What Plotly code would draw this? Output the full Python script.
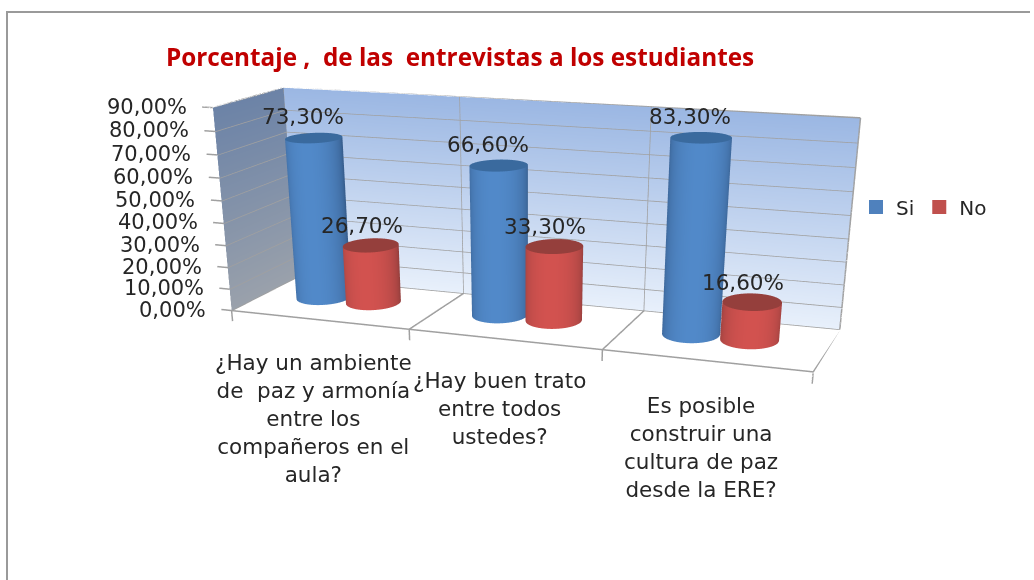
"""Cylinder chart of the student interview percentages, in a 3D scene."""

import numpy as np
import plotly.graph_objects as go

categories = [
    "¿Hay un ambiente<br>de  paz y armonía<br>entre los<br>compañeros en el<br>aula?",
    "¿Hay buen trato<br>entre todos<br>ustedes?",
    "Es posible<br>construir una<br>cultura de paz<br>desde la ERE?",
]
si_values = [73.3, 66.6, 83.3]
no_values = [26.7, 33.3, 16.6]
value_ticks = [0, 10, 20, 30, 40, 50, 60, 70, 80, 90]
series_names = ["Si", "No"]

# plotly's 3D view angle is fixed, so the page is taller than the window
# to get the flat perspective of the original; the rest is cut off below.
H = 1240
W = 1034

LIT = dict(ambient=1, diffuse=0, specular=0, fresnel=0)
LINE_COLOR = "#a0a0a0"

fig = go.Figure()


def pct(v):
    return f"{v:.2f}%".replace(".", ",")


def add_cylinder(cx, height, dark, light, cap, cy=0.55, rx=0.14, ry=0.22):
    theta = np.linspace(0, 2 * np.pi, 121)
    th, zz = np.meshgrid(theta, [0.0, height])
    # brightest side faces the camera, not the y axis
    shade = np.clip(np.cos(th + np.radians(75)), 0, 1) ** 0.8
    fig.add_trace(go.Surface(
        x=cx + rx * np.cos(th), y=cy + ry * np.sin(th), z=zz,
        surfacecolor=shade, cmin=0, cmax=1,
        colorscale=[[0, dark], [1, light]], showscale=False, hoverinfo="skip", lighting=LIT,
    ))
    rr, tt = np.meshgrid([0.0, 1.0], theta)
    fig.add_trace(go.Surface(
        x=cx + rx * rr * np.cos(tt), y=cy + ry * rr * np.sin(tt), z=np.full(rr.shape, height),
        surfacecolor=np.zeros(rr.shape), cmin=0, cmax=1,
        colorscale=[[0, cap], [1, cap]], showscale=False, hoverinfo="skip", lighting=LIT,
    ))


def add_wall(x, y, bottom, top):
    z = np.array([[0.0, 0.0], [90.0, 90.0]])
    fig.add_trace(go.Surface(
        x=x, y=y, z=z, surfacecolor=z, cmin=0, cmax=90,
        colorscale=[[0, bottom], [1, top]], showscale=False, hoverinfo="skip", lighting=LIT,
    ))


add_wall([[0, 3], [0, 3]], [[1, 1], [1, 1]], "#e8f0fb", "#9bb7e3")
add_wall([[0, 0], [0, 0]], [[0, 1], [0, 1]], "#9aa1ab", "#6c83a7")

# Grid lines, floor and tick marks
lx, ly, lz = [], [], []


def seg(a, b):
    lx.extend([a[0], b[0], None])
    ly.extend([a[1], b[1], None])
    lz.extend([a[2], b[2], None])


for v in value_ticks:
    seg((0, 1, v), (3, 1, v))
    seg((0, 0, v), (0, 1, v))
    seg((0, 0, v), (-0.06, 0, v))
for k in range(4):
    seg((k, 1, 0), (k, 1, 90))
    seg((k, 0, 0), (k, 1, 0))
    seg((k, 0, 0), (k, 0, -5))
seg((0, 0, 0), (3, 0, 0))
fig.add_trace(go.Scatter3d(x=lx, y=ly, z=lz, mode="lines", showlegend=False, hoverinfo="skip",
                           line=dict(color=LINE_COLOR, width=3)))

notes = []
for k in range(3):
    add_cylinder(k + 0.33, si_values[k], "#385f8f", "#5189c9", "#3a6a9e")
    add_cylinder(k + 0.62, no_values[k], "#953f3d", "#d2524f", "#953f3c")
    notes.append(dict(x=k + 0.33, y=0.55, z=si_values[k], text=pct(si_values[k]), showarrow=False,
                      xshift=-11, yshift=21, font=dict(size=21.5)))
    notes.append(dict(x=k + 0.62, y=0.55, z=no_values[k], text=pct(no_values[k]), showarrow=False,
                      xshift=-9, yshift=20, font=dict(size=21.5)))
for v in value_ticks:
    notes.append(dict(x=0, y=0, z=v, text=pct(v), showarrow=False,
                      xanchor="right", xshift=-24, yshift=1, font=dict(size=21)))

for name, color in zip(series_names, ("#4f81bd", "#c0504d")):
    fig.add_trace(go.Scatter3d(x=[None], y=[None], z=[None], mode="markers", name=name,
                               marker=dict(symbol="square", size=14, color=color)))

label_x = [313, 499, 701]
label_y = [418, 408, 447]
page_labels = [
    dict(xref="paper", yref="paper", x=x / W, y=1 - y / H, text=t, showarrow=False,
         xanchor="center", yanchor="middle", font=dict(size=21.5))
    for t, x, y in zip(categories, label_x, label_y)
]

fig.update_layout(
    width=W, height=H, margin=dict(l=0, r=0, t=0, b=0, autoexpand=False), paper_bgcolor="white",
    font=dict(family="DejaVu Sans", color="#262626"),
    title=dict(text="<b>Porcentaje ,  de las  entrevistas a los estudiantes</b>", x=460 / W, y=1 - 57 / H,
               xanchor="center", yanchor="middle", font=dict(family="Open Sans", size=24.3, color="#c00000")),
    legend=dict(orientation="h", x=856 / W, y=1 - 207 / H, yanchor="middle", font=dict(size=20), itemwidth=30,
                bgcolor="rgba(0,0,0,0)"),
    annotations=page_labels,
    shapes=[dict(type="path", xref="paper", yref="paper",
                 path=f"M {7 / W} 0 L {7 / W} {1 - 12 / H} L {1030 / W} {1 - 12 / H}",
                 line=dict(color="#9a9a9a", width=2))],
    scene=dict(
        domain=dict(x=[0, 1], y=[0, 1]), bgcolor="rgba(0,0,0,0)", aspectmode="manual",
        aspectratio=dict(x=1, y=0.2275, z=0.3386),
        camera=dict(projection=dict(type="perspective"),
                    eye=dict(x=0.8246, y=-2.2085, z=0.5231),
                    center=dict(x=0.0752, y=-0.1976, z=-0.5840),
                    up=dict(x=-0.1764, y=0.4848, z=1)),
        xaxis=dict(visible=False, range=[-0.15, 3.0]),
        yaxis=dict(visible=False, range=[0.0, 1.0]),
        zaxis=dict(visible=False, range=[-6.0, 90.0]),
        annotations=notes,
    ),
)

fig.write_html("out.html", config={"displayModeBar": False},
               post_script="document.body.style.margin='0';document.body.style.overflow='hidden';")
